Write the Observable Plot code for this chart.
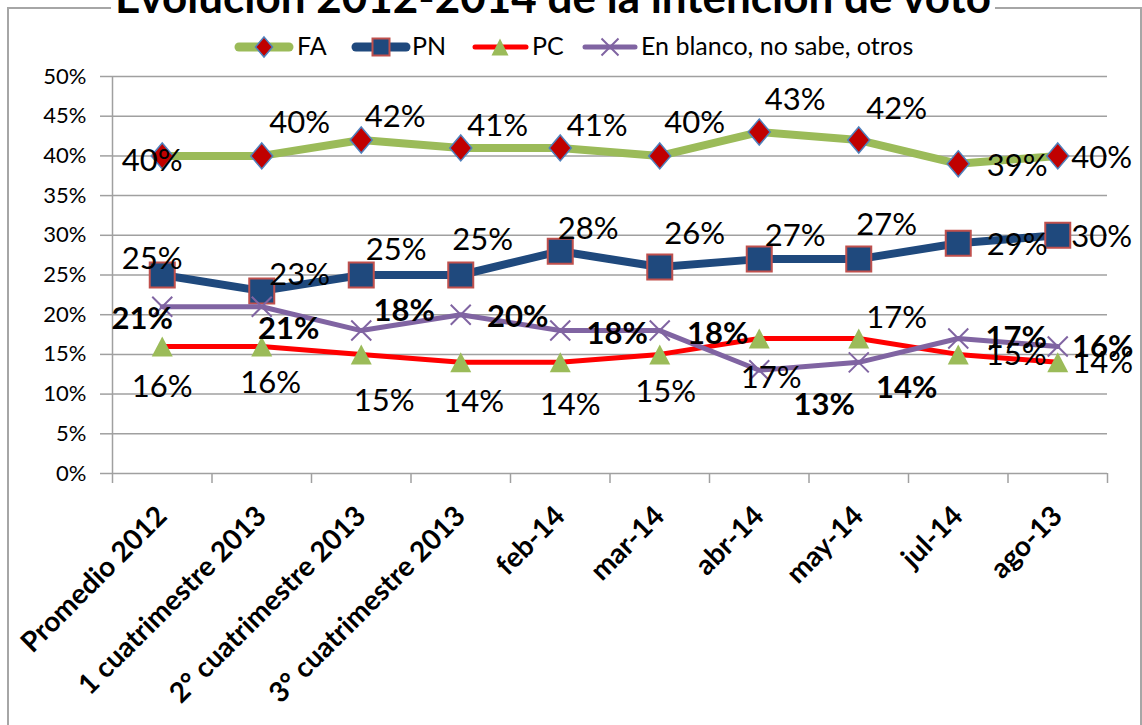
<!DOCTYPE html>
<html>
<head>
<meta charset="utf-8">
<script src="https://cdn.jsdelivr.net/npm/d3@7"></script>
<script src="https://cdn.jsdelivr.net/npm/@observablehq/plot@0.6"></script>
<style>
  html, body { margin: 0; padding: 0; background: #fff; }
  #wrap { position: relative; width: 1142px; height: 725px; overflow: hidden; font-family: Lato, sans-serif; }
  #frame { position: absolute; left: 7px; top: 7px; width: 1135px; height: 760px; border: 2px solid #a6a6a6; box-sizing: border-box; z-index: 0; }
  #header, #chart { position: relative; z-index: 1; display: block; }
  #chart svg { display: block; background: transparent; }
</style>
</head>
<body>
<div id="wrap">
  <div id="frame"></div>
  <svg id="header" width="1142" height="60"></svg>
  <div id="chart"></div>
</div>
<script>
// ---------- data ----------
const title = "Evolución 2012-2014 de la intención de voto";
const categories = ["Promedio 2012", "1 cuatrimestre 2013", "2° cuatrimestre 2013", "3° cuatrimestre 2013",
  "feb-14", "mar-14", "abr-14", "may-14", "jul-14", "ago-13"];
const seriesNames = ["FA", "PN", "PC", "En blanco, no sabe, otros"];
const faValues = [40, 40, 42, 41, 41, 40, 43, 42, 39, 40];
const pnValues = [25, 23, 25, 25, 28, 26, 27, 27, 29, 30];
const pcValues = [16, 16, 15, 14, 14, 15, 17, 17, 15, 14];
const blancoValues = [21, 21, 18, 20, 18, 18, 13, 14, 17, 16];
const yTicks = [0, 5, 10, 15, 20, 25, 30, 35, 40, 45, 50];

// ---------- layout (label offsets in px, as placed in the original) ----------
const faLabelOffsets = [[-10, 5], [38, -33], [34, -23], [37, -22], [37, -22], [35, -33], [36, -32], [38, -31], [59, 2], [44, 2]];
const pnLabelOffsets = [[-10, -16], [38, -16], [35, -25], [22, -35], [28, -22], [35, -33], [36, -23], [28, -34], [59, 2], [44, 2]];
const pcLabelOffsets = [[0, 41], [9, 37], [23, 47], [13, 40], [10, 43], [6, 38], [12, 40], [38, -20], [58, 1], [45, 1]];
const blancoLabelOffsets = [[-20, 12], [27, 22], [43, -20], [57, 2], [57, 3], [58, 3], [65, 35], [48, 26], [58, 0], [45, 1]];

// ---------- symbols ----------
const diamondSym = (hw, hh) => ({draw(ctx) { ctx.moveTo(0, -hh); ctx.lineTo(hw, 0); ctx.lineTo(0, hh); ctx.lineTo(-hw, 0); ctx.closePath(); }});
const squareSym = (h) => ({draw(ctx) { ctx.rect(-h, -h, 2 * h, 2 * h); }});
const triSym = (hw, hh) => ({draw(ctx) { ctx.moveTo(0, -hh); ctx.lineTo(hw, hh); ctx.lineTo(-hw, hh); ctx.closePath(); }});
const timesSym = (h) => ({draw(ctx) { ctx.moveTo(-h, -h); ctx.lineTo(h, h); ctx.moveTo(h, -h); ctx.lineTo(-h, h); }});

const series = [
  {name: seriesNames[0], values: faValues, offsets: faLabelOffsets, line: "#9BBB59", lw: 8,
   sym: diamondSym(11, 13), legSym: diamondSym(8.5, 10), fill: "#C00000", stroke: "#4F81BD", sw: 1.5, bold: false},
  {name: seriesNames[1], values: pnValues, offsets: pnLabelOffsets, line: "#1F497D", lw: 8,
   sym: squareSym(12.5), legSym: squareSym(8.5), fill: "#1F497D", stroke: "#C0504D", sw: 2, bold: false},
  {name: seriesNames[2], values: pcValues, offsets: pcLabelOffsets, line: "#FF0000", lw: 5,
   sym: triSym(10.5, 10), legSym: triSym(8.5, 8.5), fill: "#9BBB59", stroke: "none", sw: 0, bold: false},
  {name: seriesNames[3], values: blancoValues, offsets: blancoLabelOffsets, line: "#8064A2", lw: 5,
   sym: timesSym(10), legSym: timesSym(8.5), fill: "none", stroke: "#8064A2", sw: 2, bold: true}
];

const rowsFor = (s) => s.values.map((v, i) => ({i, cat: categories[i], v, series: s.name}));

// ---------- header (title + legend) ----------
const header = d3.select("#header");
const titleBg = header.append("rect").attr("fill", "#fff");
const titleText = header.append("text")
  .attr("x", 553).attr("y", 13).attr("text-anchor", "middle")
  .attr("font-family", "Lato, sans-serif").attr("font-size", 44).attr("font-weight", "bold")
  .attr("fill", "#000").text(title);
const tb = titleText.node().getBBox();
titleBg.attr("x", tb.x - 4).attr("y", tb.y).attr("width", tb.width + 8).attr("height", tb.height);

const legendPos = [
  {x1: 239, x2: 289, cx: 264, tx: 297},
  {x1: 356, x2: 406, cx: 381, tx: 412},
  {x1: 475, x2: 526, cx: 500, tx: 532},
  {x1: 585, x2: 635, cx: 610, tx: 641}
];
series.forEach((s, k) => {
  const p = legendPos[k];
  const g = header.append("g");
  g.append("line").attr("x1", p.x1).attr("x2", p.x2).attr("y1", 47).attr("y2", 47)
    .attr("stroke", s.line).attr("stroke-width", k < 2 ? 9 : 5).attr("stroke-linecap", "round");
  g.append("path").attr("d", d3.symbol(s.legSym)()).attr("transform", `translate(${p.cx},47)`)
    .attr("fill", s.fill).attr("stroke", s.stroke).attr("stroke-width", s.sw);
  g.append("text").attr("x", p.tx).attr("y", 55).attr("font-family", "Lato, sans-serif")
    .attr("font-size", 25).attr("fill", "#000").text(s.name);
});

// ---------- chart ----------
const idx = d3.range(categories.length);
const boundaries = d3.range(categories.length + 1).map(i => i - 0.5);
const gridColor = "#a0a0a0";

const marks = [
  Plot.ruleY(yTicks, {stroke: gridColor, strokeWidth: 1.5}),
  Plot.ruleX([boundaries[0]], {stroke: gridColor, strokeWidth: 1.5}),
  Plot.axisY({ticks: yTicks, tickSize: 12, tickPadding: 14, tickFormat: d => d + "%", fontSize: 22,
    stroke: gridColor, strokeWidth: 1.5, strokeOpacity: 1, label: null, fill: "#000"}),
  Plot.axisX({ticks: boundaries, tickSize: 10, text: null, stroke: gridColor, strokeWidth: 1.5, strokeOpacity: 1, label: null}),
  Plot.axisX({ticks: idx, tickSize: 0, tickFormat: i => categories[i], tickRotate: -45, tickPadding: 38, dx: 0,
    fontSize: 28, fontWeight: "bold", label: null, fill: "#000"})
];

series.forEach(s => {
  const rows = rowsFor(s);
  marks.push(Plot.line(rows, {x: "i", y: "v", stroke: s.line, strokeWidth: s.lw, strokeLinejoin: "round"}));
  marks.push(Plot.dot(rows, {x: "i", y: "v", symbol: s.sym, fill: s.fill, stroke: s.stroke, strokeWidth: s.sw}));
});

series.forEach(s => {
  rowsFor(s).forEach((r, i) => {
    marks.push(Plot.text([r], {x: "i", y: "v", text: d => d.v + "%", dx: s.offsets[i][0], dy: s.offsets[i][1],
      fontSize: 31, fontWeight: s.bold ? "bold" : "normal", fill: "#000"}));
  });
});

const chart = Plot.plot({
  width: 1142,
  height: 665,
  marginTop: 16,
  marginBottom: 252,
  marginLeft: 112,
  marginRight: 35,
  x: {type: "linear", domain: [-0.5, categories.length - 0.5], axis: null},
  y: {domain: [0, 50], axis: null},
  style: {fontFamily: "Lato, sans-serif", background: "transparent", overflow: "visible", color: "#000"},
  marks
});
document.getElementById("chart").appendChild(chart);
</script>
</body>
</html>
